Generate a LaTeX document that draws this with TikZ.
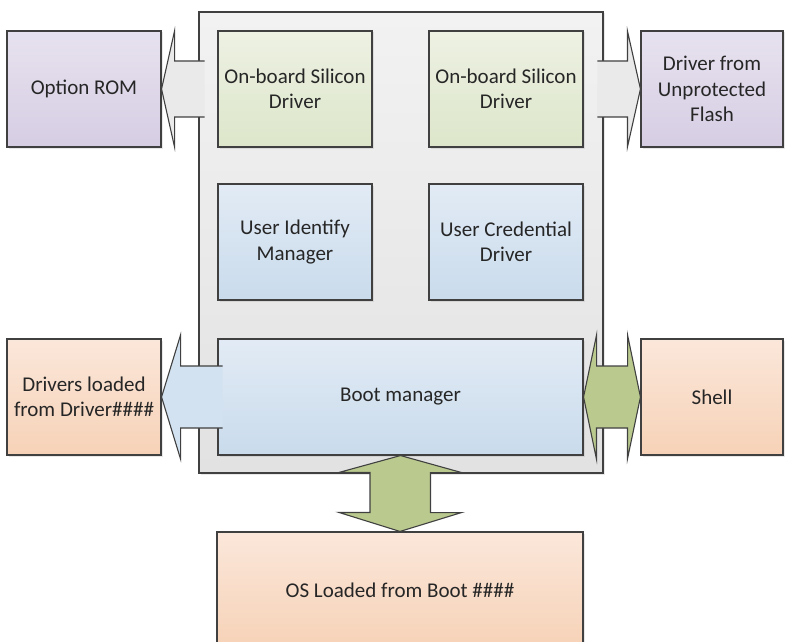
\documentclass[tikz,border=0pt]{standalone}
\usepackage{fontspec}
\setmainfont{Carlito}
\usetikzlibrary{calc,shadows}

\definecolor{edge}{HTML}{404040}
\definecolor{ink}{HTML}{262626}
\definecolor{grayT}{HTML}{F2F2F2}\definecolor{grayB}{HTML}{E2E2E2}
\definecolor{greenT}{HTML}{EDF1E3}\definecolor{greenB}{HTML}{DDE6CA}
\definecolor{blueT}{HTML}{E2EBF5}\definecolor{blueB}{HTML}{C9DBEC}
\definecolor{purpT}{HTML}{E7E2EF}\definecolor{purpB}{HTML}{D6CDE3}
\definecolor{peachT}{HTML}{FBE7DA}\definecolor{peachB}{HTML}{F6D2B7}
\definecolor{olive}{HTML}{BACA8E}
\definecolor{lightarrow}{HTML}{EAEAEA}
\definecolor{bluearrow}{HTML}{D3E2F0}

\tikzset{
  box/.style={draw=edge, line width=1.1pt, text=ink, align=center,
    font=\fontsize{21}{25.5}\selectfont, inner sep=2pt,
    minimum width=154pt, minimum height=116pt,
    drop shadow={shadow xshift=1.5pt, shadow yshift=-1.5pt, opacity=0.18}},
  greenbox/.style={box, top color=greenT, bottom color=greenB},
  bluebox/.style={box, top color=blueT, bottom color=blueB},
  purplebox/.style={box, top color=purpT, bottom color=purpB},
  peachbox/.style={box, top color=peachT, bottom color=peachB},
  arrline/.style={draw=edge, line width=1.1pt, line join=miter},
}

\begin{document}
\begin{tikzpicture}[x=1pt, y=-1pt]
  \useasboundingbox (0,0) rectangle (788,642);
  \clip (0,0) rectangle (788,642);

  % platform container
  \node[box, top color=grayT, bottom color=grayB,
        minimum width=404pt, minimum height=461pt] (main) at (401,242.5) {};

  % drivers inside the platform
  \node[greenbox] (osd1) at (295,89)  {On-board Silicon\\Driver};
  \node[greenbox] (osd2) at (506,89)  {On-board Silicon\\Driver};
  \node[bluebox]  (uim)  at (295,242) {User Identify\\Manager};
  \node[bluebox]  (ucd)  at (506,242) {User Credential\\Driver};
  \node[bluebox, minimum width=365pt] (bm) at (400.5,397) {Boot manager};

  % external sources
  \node[purplebox] (rom)   at (84,89)    {Option ROM};
  \node[purplebox, minimum width=142pt] (flash) at (712,89) {Driver from\\Unprotected\\Flash};
  \node[peachbox]  (drv)   at (84,397)   {Drivers loaded\\from Driver\#\#\#\#};
  \node[peachbox, minimum width=142pt] (shell) at (712,397) {Shell};
  \node[peachbox, minimum width=366pt] (os) at (400,590) {OS Loaded from Boot \#\#\#\#};

  % Option ROM arrow (base hidden in the container)
  \fill[lightarrow] (rom.east) -- ++(13,-58) -- ++(0,30) -- ++(30,0)
    -- ++(0,56) -- ++(-30,0) -- ++(0,30) -- cycle;
  \draw[arrline] ($(rom.east)+(43,-28)$) -- ++(-30,0) -- ++(0,-30)
    -- (rom.east) -- ++(13,58) -- ++(0,-30) -- ++(30,0);

  % unprotected flash arrow
  \fill[lightarrow] (flash.west) -- ++(-13,-58) -- ++(0,30) -- ++(-30,0)
    -- ++(0,56) -- ++(30,0) -- ++(0,30) -- cycle;
  \draw[arrline] ($(flash.west)+(-43,-28)$) -- ++(30,0) -- ++(0,-30)
    -- (flash.west) -- ++(-13,58) -- ++(0,-30) -- ++(-30,0);

  % Driver#### arrow out of the boot manager
  \fill[bluearrow] (drv.east) -- ++(19,-62) -- ++(0,31) -- ++(42,0)
    -- ++(0,62) -- ++(-42,0) -- ++(0,31) -- cycle;
  \draw[arrline] ($(drv.east)+(61,-31)$) -- ++(-42,0) -- ++(0,-31)
    -- (drv.east) -- ++(19,62) -- ++(0,-31) -- ++(42,0);

  % boot manager <-> shell
  \draw[arrline, fill=olive] (bm.east) -- ++(13,-62) -- ++(0,31) -- ++(31,0)
    -- ++(0,-31) -- (shell.west) -- ++(-13,62) -- ++(0,-31) -- ++(-31,0)
    -- ++(0,31) -- cycle;

  % boot manager <-> OS loader
  \draw[arrline, fill=olive] (bm.south) -- ++(61,17) -- ++(-31,0) -- ++(0,40)
    -- ++(31,0) -- (os.north) -- ++(-61,-19) -- ++(31,0) -- ++(0,-40)
    -- ++(-31,0) -- cycle;
\end{tikzpicture}
\end{document}
